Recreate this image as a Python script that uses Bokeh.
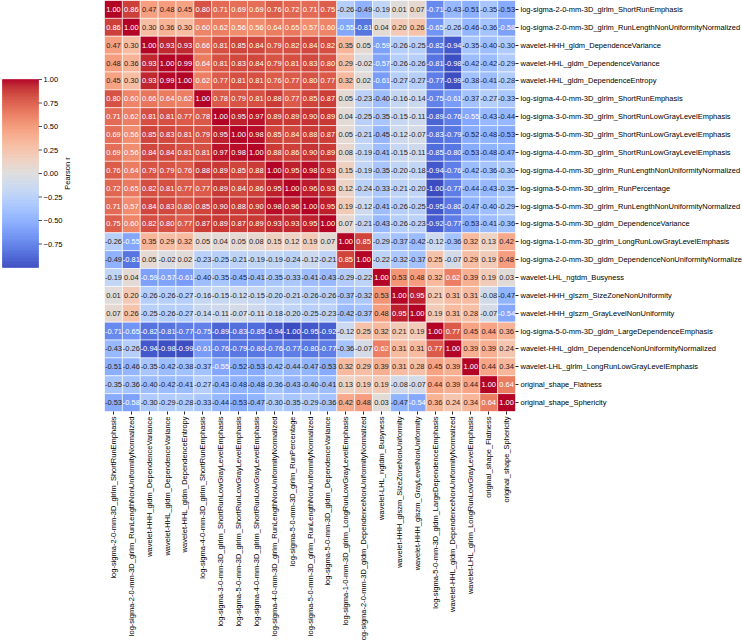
import numpy as np
from bokeh.plotting import figure
from bokeh.models import ColumnDataSource, LinearColorMapper
from bokeh.layouts import row
from bokeh.embed import file_html
from bokeh.resources import INLINE
from bokeh.core.properties import value
from bokeh.transform import transform

features = [
    "log-sigma-2-0-mm-3D_glrlm_ShortRunEmphasis",
    "log-sigma-2-0-mm-3D_glrlm_RunLengthNonUniformityNormalized",
    "wavelet-HHH_gldm_DependenceVariance",
    "wavelet-HHL_gldm_DependenceVariance",
    "wavelet-HHL_gldm_DependenceEntropy",
    "log-sigma-4-0-mm-3D_glrlm_ShortRunEmphasis",
    "log-sigma-3-0-mm-3D_glrlm_ShortRunLowGrayLevelEmphasis",
    "log-sigma-5-0-mm-3D_glrlm_ShortRunLowGrayLevelEmphasis",
    "log-sigma-4-0-mm-3D_glrlm_ShortRunLowGrayLevelEmphasis",
    "log-sigma-4-0-mm-3D_glrlm_RunLengthNonUniformityNormalized",
    "log-sigma-5-0-mm-3D_glrlm_RunPercentage",
    "log-sigma-5-0-mm-3D_glrlm_RunLengthNonUniformityNormalized",
    "log-sigma-5-0-mm-3D_gldm_DependenceVariance",
    "log-sigma-1-0-mm-3D_glrlm_LongRunLowGrayLevelEmphasis",
    "log-sigma-2-0-mm-3D_gldm_DependenceNonUniformityNormalized",
    "wavelet-LHL_ngtdm_Busyness",
    "wavelet-HHH_glszm_SizeZoneNonUniformity",
    "wavelet-HHH_glszm_GrayLevelNonUniformity",
    "log-sigma-5-0-mm-3D_gldm_LargeDependenceEmphasis",
    "wavelet-HHL_gldm_DependenceNonUniformityNormalized",
    "wavelet-LHL_glrlm_LongRunLowGrayLevelEmphasis",
    "original_shape_Flatness",
    "original_shape_Sphericity",
]

corr_rows = [
    [1.00, 0.86, 0.47, 0.48, 0.45, 0.80, 0.71, 0.69, 0.69, 0.76, 0.72, 0.71, 0.75, -0.26, -0.49, -0.19, 0.01, 0.07, -0.71, -0.43, -0.51, -0.35, -0.53],
    [0.86, 1.00, 0.30, 0.36, 0.30, 0.60, 0.62, 0.56, 0.56, 0.64, 0.65, 0.57, 0.60, -0.55, -0.81, 0.04, 0.20, 0.26, -0.65, -0.26, -0.46, -0.36, -0.58],
    [0.47, 0.30, 1.00, 0.93, 0.93, 0.66, 0.81, 0.85, 0.84, 0.79, 0.82, 0.84, 0.82, 0.35, 0.05, -0.59, -0.26, -0.25, -0.82, -0.94, -0.35, -0.40, -0.30],
    [0.48, 0.36, 0.93, 1.00, 0.99, 0.64, 0.81, 0.83, 0.84, 0.79, 0.81, 0.83, 0.80, 0.29, -0.02, -0.57, -0.26, -0.26, -0.81, -0.98, -0.42, -0.42, -0.29],
    [0.45, 0.30, 0.93, 0.99, 1.00, 0.62, 0.77, 0.81, 0.81, 0.76, 0.77, 0.80, 0.77, 0.32, 0.02, -0.61, -0.27, -0.27, -0.77, -0.99, -0.38, -0.41, -0.28],
    [0.80, 0.60, 0.66, 0.64, 0.62, 1.00, 0.78, 0.79, 0.81, 0.88, 0.77, 0.85, 0.87, 0.05, -0.23, -0.40, -0.16, -0.14, -0.75, -0.61, -0.37, -0.27, -0.33],
    [0.71, 0.62, 0.81, 0.81, 0.77, 0.78, 1.00, 0.95, 0.97, 0.89, 0.89, 0.90, 0.89, 0.04, -0.25, -0.35, -0.15, -0.11, -0.89, -0.76, -0.55, -0.43, -0.44],
    [0.69, 0.56, 0.85, 0.83, 0.81, 0.79, 0.95, 1.00, 0.98, 0.85, 0.84, 0.88, 0.87, 0.05, -0.21, -0.45, -0.12, -0.07, -0.83, -0.79, -0.52, -0.48, -0.53],
    [0.69, 0.56, 0.84, 0.84, 0.81, 0.81, 0.97, 0.98, 1.00, 0.88, 0.86, 0.90, 0.89, 0.08, -0.19, -0.41, -0.15, -0.11, -0.85, -0.80, -0.53, -0.48, -0.47],
    [0.76, 0.64, 0.79, 0.79, 0.76, 0.88, 0.89, 0.85, 0.88, 1.00, 0.95, 0.98, 0.93, 0.15, -0.19, -0.35, -0.20, -0.18, -0.94, -0.76, -0.42, -0.36, -0.30],
    [0.72, 0.65, 0.82, 0.81, 0.77, 0.77, 0.89, 0.84, 0.86, 0.95, 1.00, 0.96, 0.93, 0.12, -0.24, -0.33, -0.21, -0.20, -1.00, -0.77, -0.44, -0.43, -0.35],
    [0.71, 0.57, 0.84, 0.83, 0.80, 0.85, 0.90, 0.88, 0.90, 0.98, 0.96, 1.00, 0.95, 0.19, -0.12, -0.41, -0.26, -0.25, -0.95, -0.80, -0.47, -0.40, -0.29],
    [0.75, 0.60, 0.82, 0.80, 0.77, 0.87, 0.89, 0.87, 0.89, 0.93, 0.93, 0.95, 1.00, 0.07, -0.21, -0.43, -0.26, -0.23, -0.92, -0.77, -0.53, -0.41, -0.36],
    [-0.26, -0.55, 0.35, 0.29, 0.32, 0.05, 0.04, 0.05, 0.08, 0.15, 0.12, 0.19, 0.07, 1.00, 0.85, -0.29, -0.37, -0.42, -0.12, -0.36, 0.32, 0.13, 0.42],
    [-0.49, -0.81, 0.05, -0.02, 0.02, -0.23, -0.25, -0.21, -0.19, -0.19, -0.24, -0.12, -0.21, 0.85, 1.00, -0.22, -0.32, -0.37, 0.25, -0.07, 0.29, 0.19, 0.48],
    [-0.19, 0.04, -0.59, -0.57, -0.61, -0.40, -0.35, -0.45, -0.41, -0.35, -0.33, -0.41, -0.43, -0.29, -0.22, 1.00, 0.53, 0.48, 0.32, 0.62, 0.39, 0.19, 0.03],
    [0.01, 0.20, -0.26, -0.26, -0.27, -0.16, -0.15, -0.12, -0.15, -0.20, -0.21, -0.26, -0.26, -0.37, -0.32, 0.53, 1.00, 0.95, 0.21, 0.31, 0.31, -0.08, -0.47],
    [0.07, 0.26, -0.25, -0.26, -0.27, -0.14, -0.11, -0.07, -0.11, -0.18, -0.20, -0.25, -0.23, -0.42, -0.37, 0.48, 0.95, 1.00, 0.19, 0.31, 0.28, -0.07, -0.54],
    [-0.71, -0.65, -0.82, -0.81, -0.77, -0.75, -0.89, -0.83, -0.85, -0.94, -1.00, -0.95, -0.92, -0.12, 0.25, 0.32, 0.21, 0.19, 1.00, 0.77, 0.45, 0.44, 0.36],
    [-0.43, -0.26, -0.94, -0.98, -0.99, -0.61, -0.76, -0.79, -0.80, -0.76, -0.77, -0.80, -0.77, -0.36, -0.07, 0.62, 0.31, 0.31, 0.77, 1.00, 0.39, 0.39, 0.24],
    [-0.51, -0.46, -0.35, -0.42, -0.38, -0.37, -0.55, -0.52, -0.53, -0.42, -0.44, -0.47, -0.53, 0.32, 0.29, 0.39, 0.31, 0.28, 0.45, 0.39, 1.00, 0.44, 0.34],
    [-0.35, -0.36, -0.40, -0.42, -0.41, -0.27, -0.43, -0.48, -0.48, -0.36, -0.43, -0.40, -0.41, 0.13, 0.19, 0.19, -0.08, -0.07, 0.44, 0.39, 0.44, 1.00, 0.64],
    [-0.53, -0.58, -0.30, -0.29, -0.28, -0.33, -0.44, -0.53, -0.47, -0.30, -0.35, -0.29, -0.36, 0.42, 0.48, 0.03, -0.47, -0.54, 0.36, 0.24, 0.34, 0.64, 1.00],
]

colorbar_ticks = [-0.75, -0.5, -0.25, 0.0, 0.25, 0.5, 0.75, 1.0]
colorbar_title = "Pearson r"
color_low, color_high = -1.0, 1.0

# coolwarm (Moreland) anchor colours
cw_anchors = [
    (59, 76, 192), (68, 90, 204), (77, 104, 215), (87, 117, 225), (98, 130, 234),
    (108, 142, 241), (119, 154, 247), (130, 165, 251), (141, 176, 254), (152, 185, 255),
    (163, 194, 255), (174, 201, 253), (184, 208, 249), (194, 213, 244), (204, 217, 238),
    (213, 219, 230), (221, 221, 221), (229, 216, 209), (236, 211, 197), (241, 204, 185),
    (245, 196, 173), (247, 187, 160), (247, 177, 148), (247, 166, 135), (244, 154, 123),
    (241, 141, 111), (236, 127, 99), (229, 112, 88), (222, 96, 77), (213, 80, 66),
    (203, 62, 56), (192, 40, 47), (180, 4, 38),
]
anc = np.array(cw_anchors, dtype=float)
apos = np.linspace(0, 1, len(anc))
tpos = np.linspace(0, 1, 256)
palette = []
for t in tpos:
    r = np.interp(t, apos, anc[:, 0]); g = np.interp(t, apos, anc[:, 1]); b = np.interp(t, apos, anc[:, 2])
    palette.append("#%02x%02x%02x" % (int(round(r)), int(round(g)), int(round(b))))

FONT = "Liberation Sans"
FS = "7.5px"
FRAME = 411
CB_W = 104

xs, ys, vs, labs, tcols = [], [], [], [], []
for i, rname in enumerate(features):
    for j, cname in enumerate(features):
        v = corr_rows[i][j]
        xs.append(cname); ys.append(rname); vs.append(v)
        labs.append("%.2f" % v)
        tcols.append("#ffffff" if (v > 0.545 or v < -0.535) else "#262626")
src = ColumnDataSource(dict(x=xs, y=ys, v=vs, label=labs, tcolor=tcols))

mapper = LinearColorMapper(palette=palette, low=color_low, high=color_high)

p = figure(x_range=features, y_range=list(reversed(features)),
           frame_width=FRAME, frame_height=FRAME,
           y_axis_location="right", x_axis_location="below",
           output_backend="svg", toolbar_location=None, tools="",
           min_border_left=0, min_border_top=0, min_border_right=0, min_border_bottom=0)
p.rect(x="x", y="y", width=1, height=1, source=src,
       fill_color=transform("v", mapper), line_color="white", line_width=0.6)
p.text(x="x", y="y", text="label", source=src, text_color="tcolor",
       text_font=value(FONT), text_font_size=FS, text_align="center", text_baseline="middle")
p.grid.grid_line_color = None
p.outline_line_color = None
for ax in (p.xaxis, p.yaxis):
    ax.axis_line_color = None
    ax.major_tick_line_color = "#262626"
    ax.major_tick_out = 3
    ax.major_tick_in = 0
    ax.major_label_text_font = FONT
    ax.major_label_text_font_size = FS
    ax.major_label_text_color = "#000000"
    ax.major_label_standoff = 2
p.xaxis.major_label_orientation = np.pi / 2

# colour bar drawn in its own plot whose frame spans the heatmap's height
bar_top_px, bar_bot_px = 79.0, 267.0           # pixel rows of the bar inside the frame
ppu = (bar_bot_px - bar_top_px) / (color_high - color_low)
y_end = color_high + bar_top_px / ppu
y_start = color_low - (FRAME - bar_bot_px) / ppu
levels = np.linspace(color_low, color_high, len(palette) + 1)
cb_src = ColumnDataSource(dict(bottom=levels[:-1], top=levels[1:], color=palette))
tick_labels = [("\u2212" if t < 0 else "") + "%.2f" % abs(t) for t in colorbar_ticks]
tk_src = ColumnDataSource(dict(y=colorbar_ticks, label=tick_labels))

cb = figure(width=CB_W, frame_height=FRAME, x_range=(0, CB_W), y_range=(y_start, y_end),
            x_axis_location=None, y_axis_location=None,
            output_backend="svg", toolbar_location=None, tools="",
            min_border_left=0, min_border_right=0, min_border_top=0, min_border_bottom=0)
cb.quad(left=2, right=38, bottom="bottom", top="top", fill_color="color",
        line_color="color", line_width=0.5, source=cb_src)
cb.segment(x0=38, x1=41.5, y0="y", y1="y", line_color="#262626", line_width=0.8, source=tk_src)
cb.text(x=43, y="y", text="label", source=tk_src, text_font=value(FONT), text_font_size=FS,
        text_color="#000000", text_align="left", text_baseline="middle")
cb.text(x=[67], y=[(color_low + color_high) / 2], text=[colorbar_title], angle=np.pi / 2,
        text_font=value(FONT), text_font_size=FS, text_color="#000000",
        text_align="center", text_baseline="middle")
cb.grid.grid_line_color = None
cb.outline_line_color = None

layout = row(cb, p)
open("out.html", "w").write(file_html(layout, INLINE))
